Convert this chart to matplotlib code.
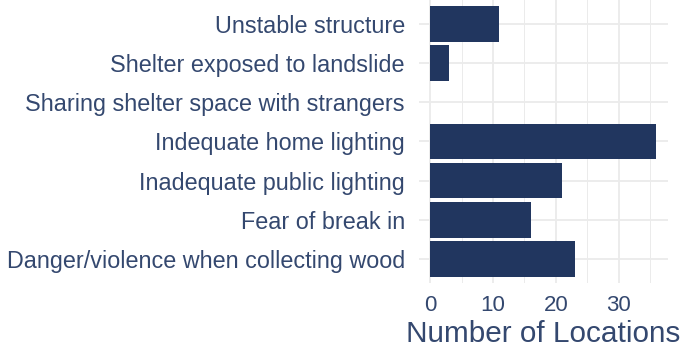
import matplotlib.pyplot as plt

plt.rcParams['font.family'] = ['Liberation Sans', 'DejaVu Sans']

categories = ['Unstable structure', 'Shelter exposed to landslide',
              'Sharing shelter space with strangers', 'Indequate home lighting',
              'Inadequate public lighting', 'Fear of break in',
              'Danger/violence when collecting wood']
counts = [11, 3, 0, 36, 21, 16, 23]

bar_color = '#21365F'
text_color = '#34486F'
grid_color = '#EBEBEB'

fig = plt.figure(figsize=(6.81, 3.53), dpi=100)
ax = fig.add_axes([0.615, 0.1994, 0.3656, 0.7996])

ypos = list(range(len(categories)))[::-1]
ax.barh(ypos, counts, height=0.9, color=bar_color, zorder=3)

ax.set_xlim(-1.8, 37.8)
ax.set_ylim(-0.6, len(categories) - 0.4)
ax.set_yticks(ypos)
ax.set_yticklabels(categories)
ax.set_xticks([0, 10, 20, 30])
ax.set_xticks([5, 15, 25, 35], minor=True)

ax.grid(True, which='major', color=grid_color, linewidth=1.3, zorder=0)
ax.grid(True, which='minor', axis='x', color=grid_color, linewidth=0.7, zorder=0)
for s in ax.spines.values():
    s.set_visible(False)
ax.tick_params(axis='both', which='both', length=0, colors=text_color, labelsize=16)
ax.tick_params(axis='y', pad=10, labelsize=16.85)
ax.tick_params(axis='x', pad=9)

ax.set_xlabel('Number of Locations', fontsize=21.4, color=text_color, labelpad=3)

plt.savefig('out.png', dpi=100)
plt.close()
